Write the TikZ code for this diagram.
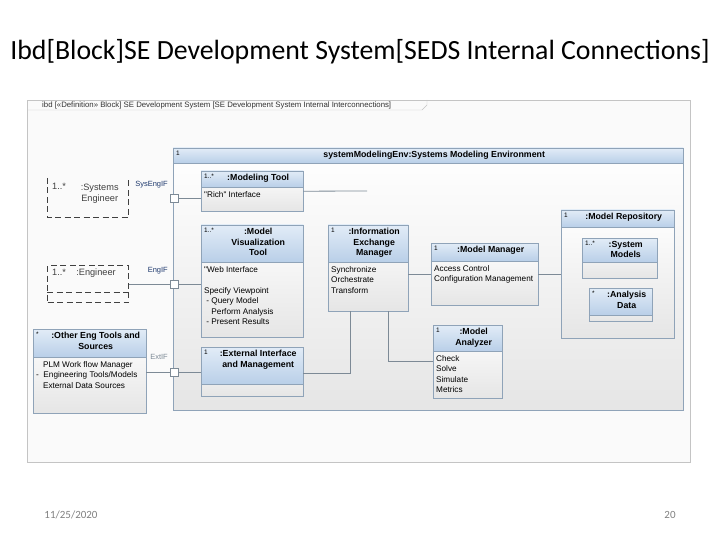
\documentclass[tikz,border=0pt]{standalone}
\usepackage{fontspec}
\setmainfont{Carlito}
\newfontfamily\diafont{Liberation Sans}
\usetikzlibrary{positioning}

\definecolor{partline}{HTML}{8FA3B8}
\definecolor{hdrtop}{HTML}{E2ECF7}
\definecolor{hdrbot}{HTML}{B9CFE8}
\definecolor{linkgray}{HTML}{7D8A96}
\definecolor{framegray}{HTML}{C4C4C4}
\definecolor{portblue}{HTML}{1F3A6E}

\tikzset{
  partnode/.style={draw=partline, anchor=north west, inner sep=0pt,
    top color=white, middle color=white, bottom color=black!10},
  hdrshade/.style={draw=partline, top color=hdrtop, bottom color=hdrbot},
  multtext/.style={font=\diafont\fontsize{6.5}{7}\selectfont, anchor=north west, inner sep=0pt},
  titletext/.style={font=\diafont\bfseries\fontsize{8.8}{10.5}\selectfont, align=center,
    anchor=north, inner sep=0pt},
  bodytext/.style={font=\diafont\fontsize{8.2}{10.5}\selectfont, align=left,
    anchor=north west, inner sep=0pt},
  link/.style={draw=linkgray, line width=0.8pt},
  portbox/.style={draw=linkgray, fill=white, minimum size=8pt, inner sep=0pt},
  portlabel/.style={font=\diafont\fontsize{7.5}{8}\selectfont, text=portblue, inner sep=0pt},
  actor/.style={anchor=north west, inner sep=0pt},
  actorline/.style={draw=black!75, line width=1pt, dash pattern=on 6pt off 3.5pt},
  actortext/.style={font=\diafont\fontsize{9.2}{11}\selectfont, text=black!75, inner sep=0pt, align=center}
}

% part block: name, x, y, width, height, header height, multiplicity, title, body
\newcommand{\partbox}[9]{%
  \node[partnode, minimum width=#4, minimum height=#5] (#1) at (#2,#3) {};
  \path[hdrshade] (#1.north west) rectangle ([yshift=-#6pt]#1.north east);
  \node[multtext] (#1-m) at ([xshift=3pt,yshift=-3pt]#1.north west) {#7};
  \node[titletext] (#1-t) at ([xshift=6pt,yshift=-3pt]#1.north) {#8};
  \node[bodytext] (#1-b) at ([xshift=3pt,yshift={-#6pt-4pt}]#1.north west) {#9};
}

\begin{document}
\begin{tikzpicture}[x=1pt, y=-1pt]
\useasboundingbox (0,0) rectangle (720,540);

% slide title
\node[font=\fontsize{27.8}{32}\selectfont] (title) at (360,52)
  {Ibd[Block]SE Development System[SEDS Internal Connections]};

% diagram frame
\draw[framegray, fill=black!2] (27,100) rectangle (690,462);
\draw[framegray] (27,110) -- (422,110) -- (427,105) -- (427,100);
\node[font=\diafont\fontsize{7.8}{8}\selectfont, anchor=west, inner sep=0pt, text=black!80] (frametab)
  at (42,105) {ibd [«Definition» Block] SE Development System [SE Development System Internal Interconnections]};

% systems modeling environment
\partbox{env}{173}{148}{510}{262}{15}{1}{systemModelingEnv:Systems Modeling Environment}{}

% parts inside the environment
\partbox{mtool}{201}{171}{102}{40}{16}{1..*}{:Modeling Tool}{"Rich" Interface}
\partbox{mvis}{201}{225}{102}{112}{37}{1..*}{:Model\\Visualization\\Tool}%
  {"Web Interface\\[10.5pt]Specify Viewpoint\\\ - Query Model\\\hphantom{\ - }Perform Analysis\\\ - Present Results}
\partbox{iem}{328}{225}{80}{86}{37}{1}{:Information\\Exchange\\Manager}{Synchronize\\Orchestrate\\Transform}
\partbox{mman}{431}{243}{107}{62}{18}{1}{:Model Manager}{Access Control\\Configuration Management}
\partbox{mrep}{561}{210}{113}{128}{17}{1}{:Model Repository}{}
\partbox{smod}{582}{238}{75}{40}{24}{1..*}{:System\\Models}{}
\partbox{adata}{589}{288}{63}{33}{27}{*}{:Analysis\\Data}{}
\partbox{mana}{433}{325}{69}{73}{26}{1}{:Model\\Analyzer}{Check\\Solve\\Simulate\\Metrics}
\partbox{extif}{201}{347}{102}{49}{37}{1}{:External Interface\\and Management}{}

% outside parts
\partbox{oeng}{33}{329}{113}{84}{28}{*}{:Other Eng Tools and\\Sources}%
  {\ \ \ PLM Work flow Manager\\-\ \ Engineering Tools/Models\\\ \ \ External Data Sources}

\node[actor, minimum width=81, minimum height=39] (seng) at (47,178) {};
\draw[actorline] (seng.north west) -- (seng.south west) -- (seng.south east) -- (seng.north east);
\node[actortext, anchor=north west] (seng-m) at ([xshift=5pt,yshift=-5pt]seng.north west) {1..*};
\node[actortext] (seng-t) at ([xshift=12pt,yshift=3.5pt]seng.center) {:Systems\\Engineer};

\node[actor, minimum width=81, minimum height=37, draw=black!75, line width=1pt,
  dash pattern=on 6pt off 3.5pt] (eng) at (47,265) {};
\draw[actorline] ([yshift=-27pt]eng.north west) -- ([yshift=-27pt]eng.north east);
\node[actortext, anchor=north west] (eng-m) at ([xshift=5pt,yshift=-4pt]eng.north west) {1..*};
\node[actortext, anchor=north] (eng-t) at ([xshift=8pt,yshift=-4pt]eng.north) {:Engineer};

% ports
\node[portbox] (p1) at (174,198) {};
\node[portbox] (p2) at (174,284) {};
\node[portbox] (p3) at (174,372) {};
\node[portlabel, anchor=south east] (p1-l) at (168,188) {SysEngIF};
\node[portlabel, anchor=south east] (p2-l) at (168,274) {EngIF};
\node[portlabel, anchor=south east, text=linkgray] (p3-l) at (168,360) {ExtIF};

% connectors
\draw[link] (p1.east) -- (p1 -| mtool.west);
\draw[link] (eng.east |- p2) -- (p2.west);
\draw[link] (p2.east) -- (p2 -| mvis.west);
\draw[link] (oeng.east |- p3) -- (p3.west);
\draw[link] (p3.east) -- (p3 -| extif.west);
\coordinate (mtool-end) at (367,191);
\draw[link] (mtool.east) -- (mtool-end);
\draw[link] (iem.east |- mman.west) -- (mman.west);
\draw[link] (mman.east |- mrep.west) -- (mrep.west);
\draw[link] ([xshift=20pt]iem.south) |- (mana.west);
\draw[link] ([xshift=-18pt]iem.south) |- ([yshift=-2pt]extif.east);

% footer
\node[font=\fontsize{11}{13}\selectfont, text=black!50] (date) at (71,515) {11/25/2020};
\node[font=\fontsize{11}{13}\selectfont, text=black!50] (page) at (670,515) {20};
\end{tikzpicture}
\end{document}
